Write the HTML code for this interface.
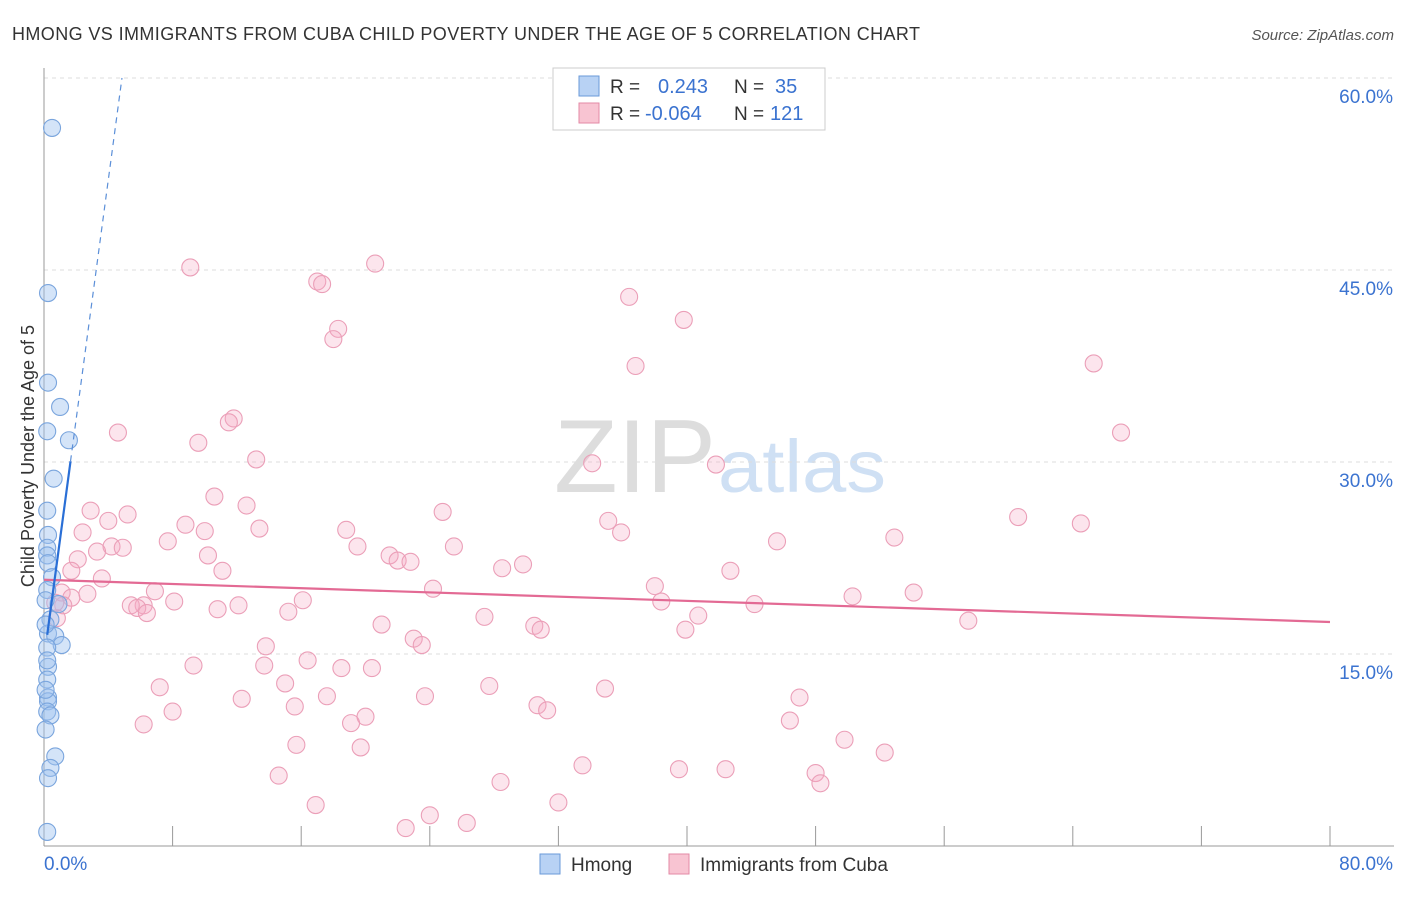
<!DOCTYPE html>
<html><head><meta charset="utf-8"><style>
body{margin:0;background:#fff;font-family:"Liberation Sans",sans-serif}
svg text{font-family:"Liberation Sans",sans-serif}
</style></head><body>
<svg id="chart" width="1406" height="892" xmlns="http://www.w3.org/2000/svg">
<text x="12" y="40" font-size="18" fill="#333" textLength="908" lengthAdjust="spacing">HMONG VS IMMIGRANTS FROM CUBA CHILD POVERTY UNDER THE AGE OF 5 CORRELATION CHART</text>
<text x="1394" y="40" font-size="15" fill="#555" font-style="italic" text-anchor="end">Source: ZipAtlas.com</text>
<text x="716" y="492" font-size="104" fill="#ddd" font-family="Liberation Serif" text-anchor="end" textLength="162" lengthAdjust="spacingAndGlyphs">ZIP</text>
<text x="718" y="492" font-size="74" fill="#cfe0f4" textLength="168" lengthAdjust="spacingAndGlyphs">atlas</text>
<g id="grid"></g>
<g id="axes"></g>
<g id="pts"></g>
<g id="trend"></g>
<text transform="translate(34,456) rotate(-90)" font-size="18" fill="#333" text-anchor="middle">Child Poverty Under the Age of 5</text>
<g>
<rect x="553" y="68" width="272" height="62" fill="#fff" stroke="#ccc"/>
<rect x="579" y="76" width="20" height="20" fill="#b8d2f4" stroke="#6a9ad8"/>
<rect x="579" y="103" width="20" height="20" fill="#f8c4d2" stroke="#e38aa6"/>
<text x="610" y="93" font-size="19" fill="#333">R = </text><text x="658" y="93" font-size="20" fill="#3b73d0">0.243</text>
<text x="734" y="93" font-size="19" fill="#333">N = </text><text x="775" y="93" font-size="20" fill="#3b73d0">35</text>
<text x="610" y="120" font-size="19" fill="#333">R = </text><text x="645" y="120" font-size="20" fill="#3b73d0">-0.064</text>
<text x="734" y="120" font-size="19" fill="#333">N = </text><text x="770" y="120" font-size="20" fill="#3b73d0">121</text>
</g>
<g>
<rect x="540" y="854" width="20" height="20" fill="#b8d2f4" stroke="#6a9ad8"/>
<text x="571" y="871" font-size="19" fill="#333">Hmong</text>
<rect x="669" y="854" width="20" height="20" fill="#f8c4d2" stroke="#e38aa6"/>
<text x="700" y="871" font-size="19" fill="#333">Immigrants from Cuba</text>
</g>
</svg>
<script>
const yTicks=[15,30,45,60];
const yTickLabels=["15.0%","30.0%","45.0%","60.0%"];
const xEndLabels=["0.0%","80.0%"];
const hmongX=[0.5,0.25,0.25,1.0,1.55,0.2,0.6,0.2,0.25,0.2,0.2,0.25,0.5,0.2,0.9,0.4,0.25,0.7,1.1,0.2,0.25,0.2,0.25,0.25,0.2,0.4,0.7,0.4,0.25,0.2,0.1,0.1,0.1,0.1,0.2];
const hmongY=[56.1,43.2,36.2,34.3,31.7,32.4,28.7,26.2,24.3,23.3,22.7,22.1,21.0,20.0,18.9,17.7,16.6,16.4,15.7,15.5,14.0,13.0,11.6,11.3,10.5,10.2,7.0,6.1,5.3,1.1,12.2,9.1,19.2,17.3,14.5];
const cubaX=[9.1,20.6,17.0,17.3,36.4,39.8,18.3,18.0,36.8,65.3,11.8,11.5,4.6,67.0,9.6,13.2,34.1,41.8,2.9,10.6,12.6,24.8,5.2,4.0,60.6,64.5,8.8,10.0,13.4,18.8,35.1,35.9,7.7,2.4,4.2,3.3,4.9,19.5,25.5,45.6,52.9,29.8,21.5,22.0,22.8,2.1,10.2,1.7,11.1,28.5,42.7,3.6,38.0,24.2,54.1,6.9,50.3,2.7,1.1,1.7,8.1,38.4,6.2,16.1,5.4,5.8,6.4,10.8,12.1,15.2,44.2,40.7,57.5,27.4,21.0,30.5,30.9,39.9,23.0,23.5,13.8,1.2,0.8,0.7,9.3,16.4,13.7,18.5,20.4,7.2,15.0,27.7,34.9,23.7,12.3,17.6,47.0,15.6,30.7,31.3,8.0,20.0,6.2,19.1,46.4,15.7,19.7,49.8,52.3,33.5,39.5,42.4,14.6,48.0,48.3,28.4,16.9,32.0,24.0,26.3,22.5];
const cubaY=[45.2,45.5,44.1,43.9,42.9,41.1,40.4,39.6,37.5,37.7,33.4,33.1,32.3,32.3,31.5,30.2,29.9,29.8,26.2,27.3,26.6,26.1,25.9,25.4,25.7,25.2,25.1,24.6,24.8,24.7,25.4,24.5,23.8,24.5,23.4,23.0,23.3,23.4,23.4,23.8,24.1,22.0,22.7,22.3,22.2,22.4,22.7,21.5,21.5,21.7,21.5,20.9,20.3,20.1,19.8,19.9,19.5,19.7,19.8,19.4,19.1,19.1,18.8,19.2,18.8,18.6,18.2,18.5,18.8,18.3,18.9,18.0,17.6,17.9,17.3,17.2,16.9,16.9,16.2,15.7,15.6,18.8,17.8,19.0,14.1,14.5,14.1,13.9,13.9,12.4,12.7,12.5,12.3,11.7,11.5,11.7,11.6,10.9,11.0,10.6,10.5,10.1,9.5,9.6,9.8,7.9,7.7,8.3,7.3,6.3,6.0,6.0,5.5,5.7,4.9,5.0,3.2,3.4,2.4,1.8,1.4];
const hmongTrend=[[0.2,16.5],[1.65,30.06]];
const hmongTrendExt=[[1.65,30.06],[4.85,60]];
const cubaTrend=[[0,20.8],[80,17.5]];
const NS="http://www.w3.org/2000/svg";
const X=v=>44+v/80*1286, Y=v=>846-v/60*768;
function mk(t,a,p){const e=document.createElementNS(NS,t);for(const k in a)e.setAttribute(k,a[k]);p.appendChild(e);return e;}
const grid=document.getElementById('grid'),axes=document.getElementById('axes'),pts=document.getElementById('pts'),tr=document.getElementById('trend');
yTicks.forEach((v,i)=>{
 const l=mk('line',{x1:44,x2:1394,y1:Y(v),y2:Y(v),stroke:'#ddd','stroke-dasharray':'4,4'},grid);
 
 
 const t=mk('text',{x:1393,y:Y(v)+25,'font-size':19,fill:'#3b73d0','text-anchor':'end'},axes);
 t.textContent=yTickLabels[i];
 
 
});
const ax=mk('line',{x1:44,x2:44,y1:68,y2:846,stroke:'#999'},axes);


const bx=mk('line',{x1:44,x2:1394,y1:846,y2:846,stroke:'#999'},axes);


for(let i=1;i<=10;i++){
 const t=mk('line',{x1:X(i*8),x2:X(i*8),y1:826,y2:846,stroke:'#999'},axes);
 
 
}
[[0,'start',44],[80,'end',1393]].forEach((d,i)=>{
 const t=mk('text',{x:d[2],y:870,'font-size':19,fill:'#3b73d0','text-anchor':d[1]},axes);
 t.textContent=xEndLabels[i];
 
 
});
cubaX.forEach((v,i)=>{
 const c=mk('circle',{cx:X(v),cy:Y(cubaY[i]),r:8.5,fill:'rgba(244,170,195,0.3)',stroke:'#eb9fb8','stroke-width':1.1},pts);
 
 
});
hmongX.forEach((v,i)=>{
 const c=mk('circle',{cx:X(v),cy:Y(hmongY[i]),r:8.5,fill:'rgba(160,195,240,0.45)',stroke:'#7aa5dd','stroke-width':1.1},pts);
 
 
});
const l1=mk('line',{x1:X(cubaTrend[0][0]),y1:Y(cubaTrend[0][1]),x2:X(cubaTrend[1][0]),y2:Y(cubaTrend[1][1]),stroke:'#e36a94','stroke-width':2.2},tr);


const l2=mk('line',{x1:X(hmongTrend[0][0]),y1:Y(hmongTrend[0][1]),x2:X(hmongTrend[1][0]),y2:Y(hmongTrend[1][1]),stroke:'#2a6fd6','stroke-width':2.2},tr);


const l3=mk('line',{x1:X(hmongTrendExt[0][0]),y1:Y(hmongTrendExt[0][1]),x2:X(hmongTrendExt[1][0]),y2:Y(hmongTrendExt[1][1]),stroke:'#5b8fd8','stroke-width':1.2,'stroke-dasharray':'6,5'},tr);


</script>
</body></html>
